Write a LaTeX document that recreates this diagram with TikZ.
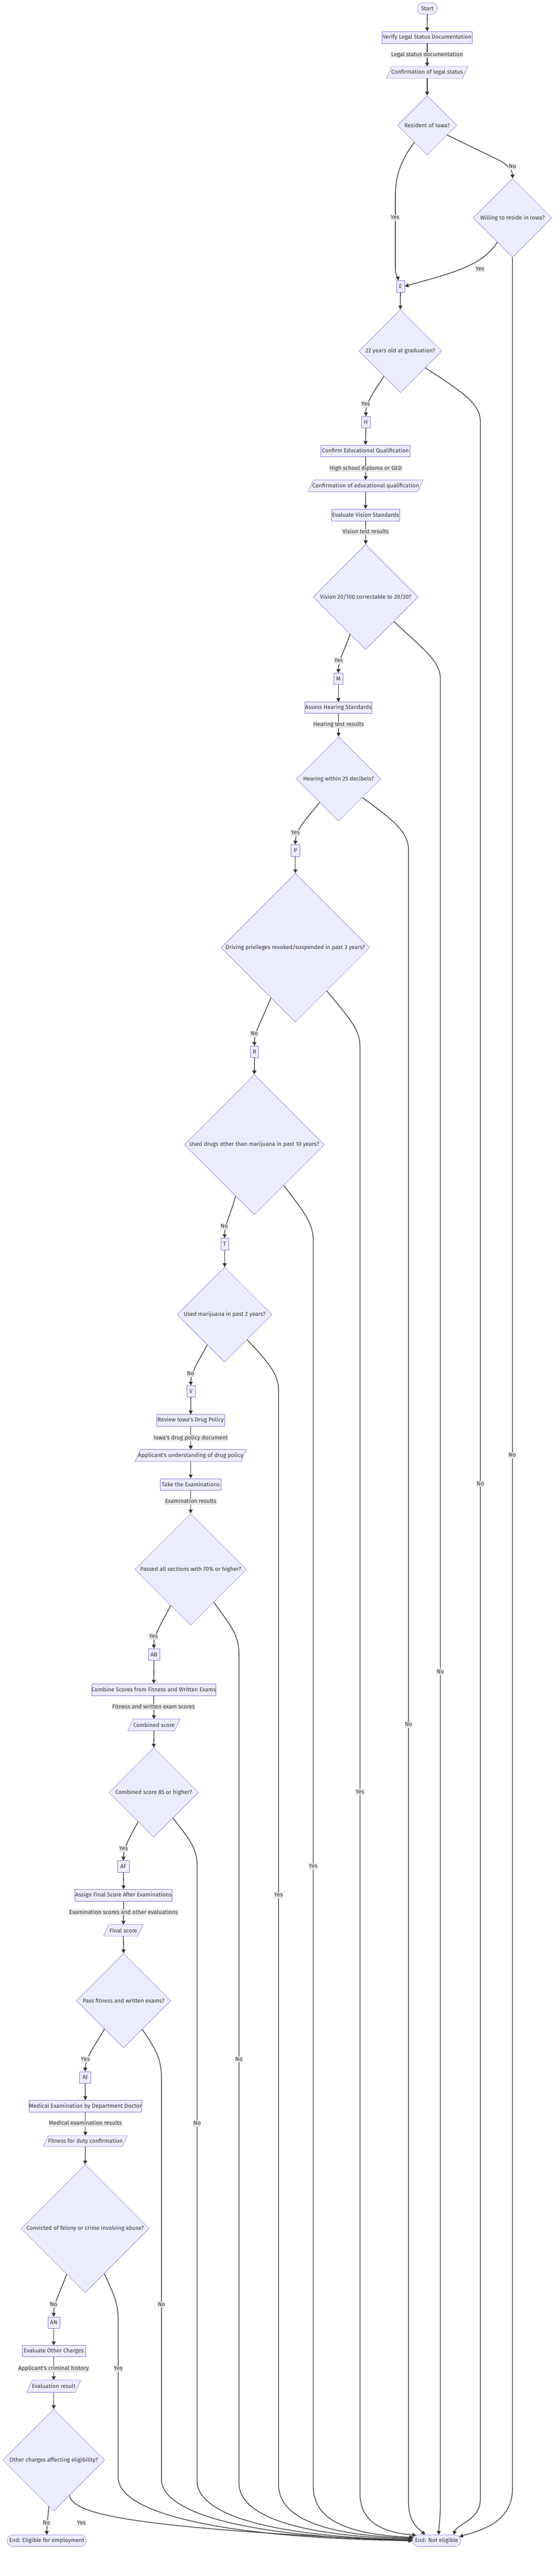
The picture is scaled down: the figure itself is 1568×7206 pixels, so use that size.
\documentclass[tikz,border=0pt]{standalone}
\usepackage{fontspec}
\setmainfont{Fira Sans}
\usetikzlibrary{shapes.geometric,shapes.misc,arrows.meta,backgrounds}
\definecolor{nfill}{HTML}{ECECFF}
\definecolor{nstroke}{HTML}{9370DB}
\definecolor{lc}{HTML}{333333}
\definecolor{lbg}{HTML}{E8E8E8}
\newcommand\nodefont{\fontsize{16}{19}\selectfont}
\newcommand\ctext[1]{\makebox[0pt]{#1}}
\newcommand\parashape[1]{\begin{pgfonlayer}{background}\filldraw[draw=nstroke,fill=nfill,line width=0.9pt] (#1.south west) -- ([xshift=-15.4pt]#1.south east) -- (#1.north east) -- ([xshift=15.4pt]#1.north west) -- cycle;\end{pgfonlayer}}
\begin{document}
\begin{tikzpicture}[x=1pt,y=-1pt,
  box/.style={rectangle,draw=nstroke,fill=nfill,line width=0.9pt,inner sep=0pt,font=\nodefont,text=lc},
  stad/.style={box,rounded rectangle,rounded rectangle arc length=180},
  para/.style={rectangle,inner sep=0pt,font=\nodefont,text=lc},
  dia/.style={box,diamond},
  every label/.style={font=\nodefont,text=lc,inner sep=0pt},
  elab/.style={fill=lbg,inner xsep=0.8pt,inner ysep=0.6pt,text height=12pt,text depth=4pt,font=\nodefont,text=lc},
  conn/.style={draw=lc,line width=1.9pt,-{Triangle[length=10.5pt,width=11pt]}}]
\begin{pgfonlayer}{background}
\fill[white] (0,0) rectangle (1568,7206);
\end{pgfonlayer}
\useasboundingbox (0,0) rectangle (1568,7206);
% nodes
\node[stad,minimum width=56,minimum height=32] (start) at (1196.5,23.8) {\ctext{Start}};
\node[box,minimum width=252,minimum height=33] (verify) at (1196,104.5) {\ctext{Verify Legal Status Documentation}};
\node[para,minimum width=228,minimum height=33] (conflegal) at (1196,202.5) {\ctext{Confirmation of legal status}};
\parashape{conflegal}
\node[dia,minimum width=166,minimum height=166,label=center:{Resident of Iowa?}] (resident) at (1196,350.5) {};
\node[dia,minimum width=220,minimum height=220,label=center:{Willing to reside in Iowa?}] (willing) at (1435,609.5) {};
\node[box,minimum width=23,minimum height=32] (E) at (1121.5,801) {\ctext{E}};
\node[dia,minimum width=232,minimum height=232,label=center:{22 years old at graduation?}] (age) at (1121,982) {};
\node[box,minimum width=25,minimum height=32] (H) at (1024.5,1181) {\ctext{H}};
\node[box,minimum width=249,minimum height=32] (edu) at (1023.5,1261) {\ctext{Confirm Educational Qualification}};
\node[para,minimum width=322,minimum height=32] (confedu) at (1024,1359) {\ctext{Confirmation of educational qualification}};
\parashape{confedu}
\node[box,minimum width=191,minimum height=33] (vision) at (1023.5,1440.5) {\ctext{Evaluate Vision Standards}};
\node[dia,minimum width=294,minimum height=294,label=center:{Vision 20/100 correctable to 20/20?}] (visdia) at (1024,1670) {};
\node[box,minimum width=25,minimum height=32] (M) at (947.5,1899) {\ctext{M}};
\node[box,minimum width=187,minimum height=31] (hearing) at (947.5,1979.5) {\ctext{Assess Hearing Standards}};
\node[dia,minimum width=236,minimum height=236,label=center:{Hearing within 25 decibels?}] (heardia) at (948,2179) {};
\node[box,minimum width=24,minimum height=32] (P) at (827,2379) {\ctext{P}};
\node[dia,minimum width=416,minimum height=416,label=center:{Driving privileges revoked/suspended in past 3 years?}] (drivdia) at (827,2651) {};
\node[box,minimum width=23,minimum height=32] (R) at (712.5,2942) {\ctext{R}};
\node[dia,minimum width=392,minimum height=392,label=center:{Used drugs other than marijuana in past 10 years?}] (drugdia) at (712,3202) {};
\node[box,minimum width=22,minimum height=33] (T) at (629,3480.5) {\ctext{T}};
\node[dia,minimum width=265,minimum height=265,label=center:{Used marijuana in past 2 years?}] (maridia) at (629,3677.5) {};
\node[box,minimum width=23,minimum height=32] (V) at (534.5,3892) {\ctext{V}};
\node[box,minimum width=190,minimum height=32] (review) at (534,3973) {\ctext{Review Iowa\textquotesingle s Drug Policy}};
\node[para,minimum width=312,minimum height=33] (understand) at (534,4071.5) {\ctext{Applicant\textquotesingle s understanding of drug policy}};
\parashape{understand}
\node[box,minimum width=170,minimum height=32] (exams) at (534,4152) {\ctext{Take the Examinations}};
\node[dia,minimum width=312,minimum height=312,label=center:{Passed all sections with 70\% or higher?}] (passdia) at (534,4390) {};
\node[box,minimum width=32,minimum height=32] (AB) at (431,4628) {\ctext{AB}};
\node[box,minimum width=347,minimum height=33] (combine) at (430.5,4726.5) {\ctext{Combine Scores from Fitness and Written Exams}};
\node[para,minimum width=146,minimum height=32] (combscore) at (431,4825) {\ctext{Combined score}};
\parashape{combscore}
\node[dia,minimum width=250,minimum height=250,label=center:{Combined score 85 or higher?}] (combdia) at (430.5,5014) {};
\node[box,minimum width=33,minimum height=32] (AF) at (345.5,5221) {\ctext{AF}};
\node[box,minimum width=272,minimum height=33] (assign) at (346,5301.5) {\ctext{Assign Final Score After Examinations}};
\node[para,minimum width=111,minimum height=32] (final) at (345.5,5400) {\ctext{Final score}};
\parashape{final}
\node[dia,minimum width=264,minimum height=264,label=center:{Pass fitness and written exams?}] (fitdia) at (346,5596.5) {};
\node[box,minimum width=31,minimum height=32] (AJ) at (238.5,5811) {\ctext{AJ}};
\node[box,minimum width=316,minimum height=33] (medical) at (239,5891.5) {\ctext{Medical Examination by Department Doctor}};
\node[para,minimum width=236,minimum height=31] (fitness) at (239,5989.5) {\ctext{Fitness for duty confirmation}};
\parashape{fitness}
\node[dia,minimum width=358,minimum height=358,label=center:{Convicted of felony or crime involving abuse?}] (convdia) at (238.5,6234) {};
\node[box,minimum width=33,minimum height=32] (AN) at (150.5,6497) {\ctext{AN}};
\node[box,minimum width=177,minimum height=32] (othercharges) at (150.5,6577) {\ctext{Evaluate Other Charges}};
\node[para,minimum width=151,minimum height=34] (evalres) at (150.5,6675) {\ctext{Evaluation result}};
\parashape{evalres}
\node[dia,minimum width=285,minimum height=285,label=center:{Other charges affecting eligibility?}] (otherdia) at (150.5,6881.5) {};
\node[stad,minimum width=222,minimum height=32] (exit) at (131,7107) {\ctext{End: Eligible for employment}};
\node[stad,minimum width=135,minimum height=32] (end) at (1222.5,7107) {\ctext{End: Not eligible}};
% connectors
\draw[conn] (start.south) -- (verify.north);
\draw[conn] (verify.south) -- (conflegal.north);
\draw[conn] (conflegal.south) -- (resident.north);
\draw[conn] (resident.233) .. controls (1125,445) and (1107,490) .. (1107,545) -- (1107,750) .. controls (1107,770) and (1114,776) .. (E.110);
\draw[conn] (resident.334) -- (1395,447) .. controls (1425,462) and (1435,478) .. (willing.north);
\draw[conn] (willing.238) .. controls (1350,745) and (1260,765) .. (E.east);
\draw[conn] (willing.south) -- (1435,6960) .. controls (1435,7050) and (1360,7075) .. (end.10);
\draw[conn] (E.south) -- (age.north);
\draw[conn] (age.237) .. controls (1040,1105) and (1024,1130) .. (H.north);
\draw[conn] (age.326.5) .. controls (1300,1100) and (1345,1130) .. (1345,1180) -- (1345,6990) .. controls (1345,7050) and (1280,7060) .. (end.19);
\draw[conn] (H.south) -- (edu.north);
\draw[conn] (edu.south) -- (confedu.north);
\draw[conn] (confedu.south) -- (vision.north);
\draw[conn] (vision.south) -- (visdia.north);
\draw[conn] (visdia.247) .. controls (965,1820) and (948,1845) .. (M.north);
\draw[conn] (visdia.319.6) .. controls (1190,1820) and (1233,1850) .. (1233,1900) -- (1233,7000) .. controls (1233,7050) and (1229,7060) .. (end.70);
\draw[conn] (M.south) -- (hearing.north);
\draw[conn] (hearing.south) -- (heardia.north);
\draw[conn] (heardia.231.2) .. controls (855,2295) and (828,2320) .. (P.north);
\draw[conn] (heardia.322.6) .. controls (1110,2300) and (1144,2330) .. (1144,2380) -- (1144,7000) .. controls (1144,7060) and (1175,7075) .. (end.153);
\draw[conn] (P.south) -- (drivdia.north);
\draw[conn] (drivdia.244.9) .. controls (730,2860) and (712,2890) .. (R.north);
\draw[conn] (drivdia.306.9) .. controls (980,2850) and (1008,2880) .. (1008,2930) -- (1008,6975) .. controls (1008,7060) and (1080,7085) .. (end.165);
\draw[conn] (R.south) -- (drugdia.north);
\draw[conn] (drugdia.250.3) .. controls (645,3400) and (629,3425) .. (T.north);
\draw[conn] (drugdia.306.3) .. controls (850,3390) and (877,3420) .. (877,3470) -- (877,6955) .. controls (877,7050) and (975,7090) .. (end.172);
\draw[conn] (T.south) -- (maridia.north);
\draw[conn] (maridia.240.5) .. controls (555,3810) and (534,3840) .. (V.north);
\draw[conn] (maridia.312) .. controls (755,3815) and (780,3845) .. (780,3890) -- (780,6950) .. controls (780,7045) and (910,7092) .. (end.174);
\draw[conn] (V.south) -- (review.north);
\draw[conn] (review.south) -- (understand.north);
\draw[conn] (understand.south) -- (exams.north);
\draw[conn] (exams.south) -- (passdia.north);
\draw[conn] (passdia.241.7) .. controls (450,4545) and (430,4575) .. (AB.north);
\draw[conn] (passdia.305.5) .. controls (645,4545) and (669,4575) .. (669,4625) -- (669,6945) .. controls (669,7040) and (840,7094) .. (end.176);
\draw[conn] (AB.south) -- (combine.north);
\draw[conn] (combine.south) -- (combscore.north);
\draw[conn] (combscore.south) -- (combdia.north);
\draw[conn] (combdia.242) .. controls (360,5145) and (346,5170) .. (AF.north);
\draw[conn] (combdia.307.4) .. controls (530,5145) and (552,5170) .. (552,5220) -- (552,6940) .. controls (552,7035) and (760,7096) .. (end.178);
\draw[conn] (AF.south) -- (assign.north);
\draw[conn] (assign.south) -- (final.north);
\draw[conn] (final.south) -- (fitdia.north);
\draw[conn] (fitdia.236.6) .. controls (260,5730) and (239,5760) .. (AJ.north);
\draw[conn] (fitdia.303.4) .. controls (435,5730) and (452,5760) .. (452,5810) -- (452,6935) .. controls (452,7032) and (700,7098) .. (end.179);
\draw[conn] (AJ.south) -- (medical.north);
\draw[conn] (medical.south) -- (fitness.north);
\draw[conn] (fitness.south) -- (convdia.north);
\draw[conn] (convdia.248) .. controls (165,6420) and (150,6445) .. (AN.north);
\draw[conn] (convdia.293.6) .. controls (320,6420) and (331,6445) .. (331,6490) -- (331,6930) .. controls (331,7030) and (620,7100) .. (end.180);
\draw[conn] (AN.south) -- (othercharges.north);
\draw[conn] (othercharges.south) -- (evalres.north);
\draw[conn] (evalres.south) -- (otherdia.north);
\draw[conn] (otherdia.264.3) .. controls (134,7045) and (131,7065) .. (exit.north);
\draw[conn] (otherdia.294.4) .. controls (205,7030) and (330,7070) .. (end.181);
% edge labels
\node[elab] (l1) at (1196,153.5) {Legal status documentation};
\node[elab] (l2) at (1435,467) {No};
\node[elab] (l3) at (1106,609) {Yes};
\node[elab] (l4) at (1344,753) {Yes};
\node[elab] (l5) at (1434,4071) {No};
\node[elab] (l6) at (1024,1131) {Yes};
\node[elab] (l7) at (1345,4151) {No};
\node[elab] (l8) at (1024,1311) {High school diploma or GED};
\node[elab] (l9) at (1024,1489) {Vision test results};
\node[elab] (l10) at (948,1849) {Yes};
\node[elab] (l11) at (1233,4677) {No};
\node[elab] (l12) at (948,2028) {Hearing test results};
\node[elab] (l13) at (827,2330) {Yes};
\node[elab] (l14) at (1144,4825) {No};
\node[elab] (l15) at (712,2892) {No};
\node[elab] (l16) at (1008,5013) {Yes};
\node[elab] (l17) at (628,3431) {No};
\node[elab] (l18) at (877,5221) {Yes};
\node[elab] (l19) at (534,3843) {No};
\node[elab] (l20) at (780,5302) {Yes};
\node[elab] (l21) at (534,4023) {Iowa\textquotesingle s drug policy document};
\node[elab] (l22) at (534,4201) {Examination results};
\node[elab] (l23) at (430,4578) {Yes};
\node[elab] (l24) at (669,5761) {No};
\node[elab] (l25) at (430,4775) {Fitness and written exam scores};
\node[elab] (l26) at (346,5172) {Yes};
\node[elab] (l27) at (552,5940) {No};
\node[elab] (l28) at (346,5350) {Examination scores and other evaluations};
\node[elab] (l29) at (239,5761) {Yes};
\node[elab] (l30) at (452,6447) {No};
\node[elab] (l31) at (239,5940) {Medical examination results};
\node[elab] (l32) at (150,6447) {No};
\node[elab] (l33) at (331,6626) {Yes};
\node[elab] (l34) at (150,6626) {Applicant\textquotesingle s criminal history};
\node[elab] (l35) at (130,7058) {No};
\node[elab] (l36) at (228,7058) {Yes};
\end{tikzpicture}
\end{document}
